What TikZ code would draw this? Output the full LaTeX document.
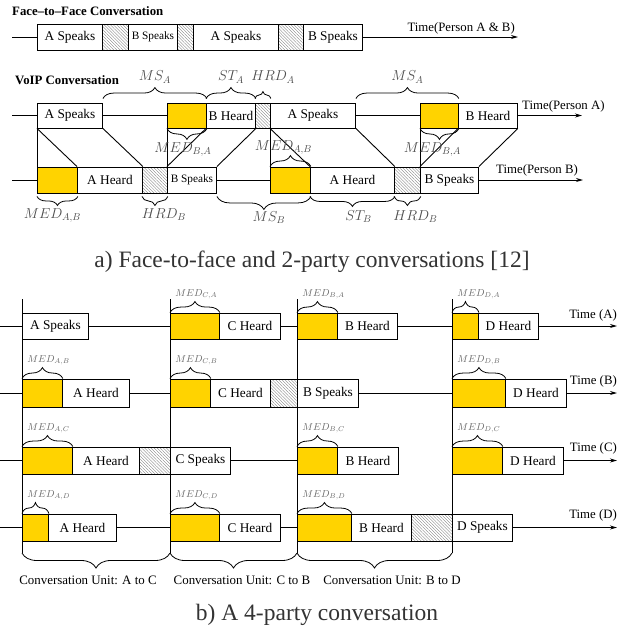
\documentclass[tikz,border=0pt]{standalone}
\usepackage{fontspec}
\setmainfont{Liberation Serif}
\usetikzlibrary{arrows.meta, decorations.pathreplacing, patterns.meta}
\definecolor{medyellow}{RGB}{255,211,0}

\begin{document}
\begin{tikzpicture}[x=1pt, y=-1pt,
            seg/.style={draw, line width=0.9pt, inner sep=0pt, minimum height=26pt, anchor=west, font=\fontsize{13.3}{16}\selectfont},
            spk/.style={seg},
            spks/.style={seg, font=\fontsize{11.3}{13}\selectfont},
            med/.style={seg, fill=medyellow},
            hrd/.style={seg, pattern={Lines[angle=-45, distance=2.2pt, line width=0.35pt]}, pattern color=black!50},
            ln/.style={line width=0.9pt},
            arr/.style={ln, -{Stealth[length=7pt, width=4pt]}},
            brc/.style={decorate, decoration={brace, amplitude=11pt, raise=#1}, line width=0.8pt},
            brc/.default=0pt,
            brcm/.style={decorate, decoration={brace, mirror, amplitude=11pt, raise=#1}, line width=0.8pt},
            brcm/.default=0pt,
            ttl/.style={font=\fontsize{12.8}{15}\selectfont\bfseries, inner sep=0pt, anchor=west},
            tlbl/.style={font=\fontsize{12.8}{15}\selectfont, inner sep=1pt},
            mlbl/.style={font=\fontsize{14.7}{17}\selectfont, text=black!70, inner sep=1pt},
            slbl/.style={font=\fontsize{10}{12}\selectfont, text=black!60, inner sep=1pt, anchor=south west, xshift=4pt, yshift=12pt},
            cu/.style={font=\fontsize{12.9}{15}\selectfont, inner sep=0pt},
            capn/.style={font=\fontsize{23.5}{27}\selectfont, text=black!80, inner sep=0pt}
        ]
            \useasboundingbox (0,0) rectangle (626,630);

            \node[ttl] (t1) at (12,11) {Face--to--Face Conversation};
            \coordinate (f0) at (12,37);
            \node[spk, minimum width=65pt] (fA1) at (37,37) {A Speaks};
            \node[hrd, minimum width=26pt] (fH1) at (102,37) {};
            \node[spks, minimum width=49pt] (fB1) at (128,37) {B Speaks};
            \node[hrd, minimum width=16pt] (fH2) at (177,37) {};
            \node[spk, minimum width=85pt] (fA2) at (193,37) {A Speaks};
            \node[hrd, minimum width=25pt] (fH3) at (278,37) {};
            \node[spk, minimum width=59pt] (fB2) at (303,37) {B Speaks};
            \coordinate (fend) at (518,37);
            \draw[ln] (f0) -- (fA1);
            \draw[arr] (fB2) -- (fend);
            \node[tlbl, anchor=south east] (fT) at (516,35) {Time(Person A \& B)};

            \node[ttl] (t2) at (15,80) {VoIP Conversation};
            \coordinate (a0) at (12,115.5);
            \node[spk, minimum width=65pt, minimum height=25pt] (vA1) at (37,115.5) {A Speaks};
            \node[med, minimum width=39pt, minimum height=25pt] (vA2) at (167,115.5) {};
            \node[spk, minimum width=49pt, minimum height=25pt] (vA3) at (206,115.5) {B Heard};
            \node[hrd, minimum width=15pt, minimum height=25pt] (vA4) at (255,115.5) {};
            \node[spk, minimum width=85pt, minimum height=25pt] (vA5) at (270,115.5) {A Speaks};
            \node[med, minimum width=38pt, minimum height=25pt] (vA6) at (420,115.5) {};
            \node[spk, minimum width=59pt, minimum height=25pt] (vA7) at (458,115.5) {B Heard};
            \coordinate (aend) at (582,115.5);
            \draw[ln] (a0) -- (vA1);
            \draw[ln] (vA1) -- (vA2);
            \draw[ln] (vA5) -- (vA6);
            \draw[arr] (vA7) -- (aend);
            \node[tlbl, anchor=south west] (aT) at (521,113) {Time(Person A)};

            \coordinate (b0) at (12,180);
            \node[med, minimum width=40pt] (vB1) at (37,180) {};
            \node[spk, minimum width=65pt] (vB2) at (77,180) {A Heard};
            \node[hrd, minimum width=25pt] (vB3) at (142,180) {};
            \node[spks, minimum width=49pt] (vB4) at (167,180) {B Speaks};
            \node[med, minimum width=40pt] (vB5) at (270,180) {};
            \node[spk, minimum width=84pt] (vB6) at (310,180) {A Heard};
            \node[hrd, minimum width=26pt] (vB7) at (394,180) {};
            \node[spk, minimum width=58pt] (vB8) at (420,180) {B Speaks};
            \coordinate (bend) at (583,180);
            \draw[ln] (b0) -- (vB1);
            \draw[ln] (vB4) -- (vB5);
            \draw[arr] (vB8) -- (bend);
            \node[tlbl, anchor=south west] (bT) at (495,177) {Time(Person B)};

            \draw[ln] (vA1.south west) -- (vB1.north west);
            \draw[ln] (vA1.south west) -- (vB2.north west);
            \draw[ln] (vA1.south east) -- (vB2.north east);
            \draw[ln] (vB4.north west) -- (vA2.south west);
            \draw[ln] (vB4.north west) -- (vA3.south west);
            \draw[ln] (vB4.north east) -- (vA3.south east);
            \draw[ln] (vA5.south west) -- (vB5.north west);
            \draw[ln] (vA5.south west) -- (vB6.north west);
            \draw[ln] (vA5.south east) -- (vB6.north east);
            \draw[ln] (vB8.north west) -- (vA6.south west);
            \draw[ln] (vB8.north west) -- (vA7.south west);
            \draw[ln] (vB8.north east) -- (vA7.south east);

            \draw[brc=4pt] (vA1.north east) -- (vA2.north east) node[mlbl, midway, above=18pt] {$MS_A$};
            \draw[brc=4pt] (vA3.north west) -- (vA3.north east) node[mlbl, midway, above=18pt] {$ST_A$};
            \draw[brc=4pt, decoration={amplitude=7pt}] (vA4.north west) -- (vA4.north east) node[mlbl, midway, above=18pt, xshift=10pt] {$HRD_A$};
            \draw[brc=4pt] (vA5.north east) -- (vA6.north east) node[mlbl, midway, above=18pt] {$MS_A$};
            \draw[brcm] (vA2.south west) -- (vA2.south east) node[mlbl, midway, below=13pt, xshift=-4pt] {$MED_{B,A}$};
            \draw[brcm] (vA6.south west) -- (vA6.south east) node[mlbl, midway, below=13pt, xshift=-7pt] {$MED_{B,A}$};
            \draw[brc] (vB5.north west) -- (vB5.north east) node[mlbl, midway, above=11pt, xshift=-7pt] {$MED_{A,B}$};
            \draw[brcm=3pt, decoration={amplitude=9pt}] (vB1.south west) -- (vB1.south east) node[mlbl, midway, below=14pt, xshift=-5pt] {$MED_{A,B}$};
            \draw[brcm=3pt, decoration={amplitude=9pt}] (vB3.south west) -- (vB3.south east) node[mlbl, midway, below=14pt, xshift=9pt] {$HRD_B$};
            \draw[brcm=3pt, decoration={amplitude=13pt}] (vB4.south east) -- (vB5.south east) node[mlbl, midway, below=17pt, xshift=5pt] {$MS_B$};
            \draw[brcm=3pt, decoration={amplitude=10pt}] (vB6.south west) -- (vB6.south east) node[mlbl, midway, below=16pt, xshift=6pt] {$ST_B$};
            \draw[brcm=3pt, decoration={amplitude=9pt}] (vB7.south west) -- (vB7.south east) node[mlbl, midway, below=16pt, xshift=8pt] {$HRD_B$};

            \node[capn] (capA) at (312,262) {a) Face-to-face and 2-party conversations [12]};

            \coordinate (u0t) at (22,299);
            \coordinate (u0b) at (22,553);
            \coordinate (u1t) at (170,299);
            \coordinate (u1b) at (170,553);
            \coordinate (u2t) at (297,299);
            \coordinate (u2b) at (297,553);
            \coordinate (u3t) at (452,299);
            \coordinate (u3b) at (452,553);
            \draw[ln] (u0t) -- (u0b);
            \draw[ln] (u1t) -- (u1b);
            \draw[ln] (u2t) -- (u2b);
            \draw[ln] (u3t) -- (u3b);

            \coordinate (r1s) at (0,326);
            \node[spk, minimum width=66pt] (pA1) at (22,326) {A Speaks};
            \node[med, minimum width=49pt] (pA2) at (170,326) {};
            \node[spk, minimum width=61pt] (pA3) at (219,326) {C Heard};
            \node[med, minimum width=40pt] (pA4) at (297,326) {};
            \node[spk, minimum width=60pt] (pA5) at (337,326) {B Heard};
            \node[med, minimum width=26pt] (pA6) at (452,326) {};
            \node[spk, minimum width=60pt] (pA7) at (478,326) {D Heard};
            \coordinate (r1e) at (617,326);
            \draw[ln] (r1s) -- (pA1);
            \draw[ln] (pA1) -- (pA2);
            \draw[ln] (pA3) -- (pA4);
            \draw[ln] (pA5) -- (pA6);
            \draw[arr] (pA7) -- (r1e);
            \node[tlbl, anchor=south east] (pT1) at (618,322) {Time (A)};

            \coordinate (r2s) at (0,393);
            \node[med, minimum width=40pt, minimum height=28pt] (pB1) at (22,393) {};
            \node[spk, minimum width=67pt, minimum height=28pt] (pB2) at (62,393) {A Heard};
            \node[med, minimum width=40pt, minimum height=28pt] (pB3) at (170,393) {};
            \node[spk, minimum width=60pt, minimum height=28pt] (pB4) at (210,393) {C Heard};
            \node[hrd, minimum width=27pt, minimum height=28pt] (pB5) at (270,393) {};
            \node[spk, minimum width=61pt, minimum height=28pt] (pB6) at (297,393) {B Speaks};
            \node[med, minimum width=53pt, minimum height=28pt] (pB7) at (452,393) {};
            \node[spk, minimum width=61pt, minimum height=28pt] (pB8) at (505,393) {D Heard};
            \coordinate (r2e) at (617,393);
            \draw[ln] (r2s) -- (pB1);
            \draw[ln] (pB2) -- (pB3);
            \draw[ln] (pB6) -- (pB7);
            \draw[arr] (pB8) -- (r2e);
            \node[tlbl, anchor=south east] (pT2) at (618,388) {Time (B)};

            \coordinate (r3s) at (0,460.5);
            \node[med, minimum width=50pt, minimum height=27pt] (pC1) at (22,460.5) {};
            \node[spk, minimum width=67pt, minimum height=27pt] (pC2) at (72,460.5) {A Heard};
            \node[hrd, minimum width=31pt, minimum height=27pt] (pC3) at (139,460.5) {};
            \node[spk, minimum width=60pt, minimum height=27pt] (pC4) at (170,460.5) {C Speaks};
            \node[med, minimum width=40pt, minimum height=27pt] (pC5) at (297,460.5) {};
            \node[spk, minimum width=61pt, minimum height=27pt] (pC6) at (337,460.5) {B Heard};
            \node[med, minimum width=50pt, minimum height=27pt] (pC7) at (452,460.5) {};
            \node[spk, minimum width=61pt, minimum height=27pt] (pC8) at (502,460.5) {D Heard};
            \coordinate (r3e) at (617,460.5);
            \draw[ln] (r3s) -- (pC1);
            \draw[ln] (pC4) -- (pC5);
            \draw[arr] (pC8) -- (r3e);
            \node[tlbl, anchor=south east] (pT3) at (618,455) {Time (C)};

            \coordinate (r4s) at (0,527.5);
            \node[med, minimum width=26pt, minimum height=27pt] (pD1) at (22,527.5) {};
            \node[spk, minimum width=68pt, minimum height=27pt] (pD2) at (48,527.5) {A Heard};
            \node[med, minimum width=49pt, minimum height=27pt] (pD3) at (170,527.5) {};
            \node[spk, minimum width=61pt, minimum height=27pt] (pD4) at (219,527.5) {C Heard};
            \node[med, minimum width=54pt, minimum height=27pt] (pD5) at (297,527.5) {};
            \node[spk, minimum width=60pt, minimum height=27pt] (pD6) at (351,527.5) {B Heard};
            \node[hrd, minimum width=41pt, minimum height=27pt] (pD7) at (411,527.5) {};
            \node[spk, minimum width=60pt, minimum height=27pt] (pD8) at (452,527.5) {D Speaks};
            \coordinate (r4e) at (617,527.5);
            \draw[ln] (r4s) -- (pD1);
            \draw[ln] (pD2) -- (pD3);
            \draw[ln] (pD4) -- (pD5);
            \draw[arr] (pD8) -- (r4e);
            \node[tlbl, anchor=south east] (pT4) at (618,522) {Time (D)};

            \draw[brc] (pA2.north west) -- (pA2.north east) node[slbl, pos=0] {$MED_{C,A}$};
            \draw[brc] (pA4.north west) -- (pA4.north east) node[slbl, pos=0] {$MED_{B,A}$};
            \draw[brc] (pA6.north west) -- (pA6.north east) node[slbl, pos=0] {$MED_{D,A}$};
            \draw[brc] (pB1.north west) -- (pB1.north east) node[slbl, pos=0] {$MED_{A,B}$};
            \draw[brc] (pB3.north west) -- (pB3.north east) node[slbl, pos=0] {$MED_{C,B}$};
            \draw[brc] (pB7.north west) -- (pB7.north east) node[slbl, pos=0] {$MED_{D,B}$};
            \draw[brc] (pC1.north west) -- (pC1.north east) node[slbl, pos=0] {$MED_{A,C}$};
            \draw[brc] (pC5.north west) -- (pC5.north east) node[slbl, pos=0] {$MED_{B,C}$};
            \draw[brc] (pC7.north west) -- (pC7.north east) node[slbl, pos=0] {$MED_{D,C}$};
            \draw[brc] (pD1.north west) -- (pD1.north east) node[slbl, pos=0] {$MED_{A,D}$};
            \draw[brc] (pD3.north west) -- (pD3.north east) node[slbl, pos=0] {$MED_{C,D}$};
            \draw[brc] (pD5.north west) -- (pD5.north east) node[slbl, pos=0] {$MED_{B,D}$};

            \draw[brcm, decoration={amplitude=15pt}] (u0b) -- (u1b);
            \draw[brcm, decoration={amplitude=15pt}] (u1b) -- (u2b);
            \draw[brcm, decoration={amplitude=15pt}] (u2b) -- (u3b);
            \node[cu] (cu1) at (88,580) {Conversation Unit: A to C};
            \node[cu] (cu2) at (242,580) {Conversation Unit: C to B};
            \node[cu] (cu3) at (392,580) {Conversation Unit: B to D};

            \node[capn] (capB) at (317,615) {b) A 4-party conversation};
        \end{tikzpicture}
\end{document}
